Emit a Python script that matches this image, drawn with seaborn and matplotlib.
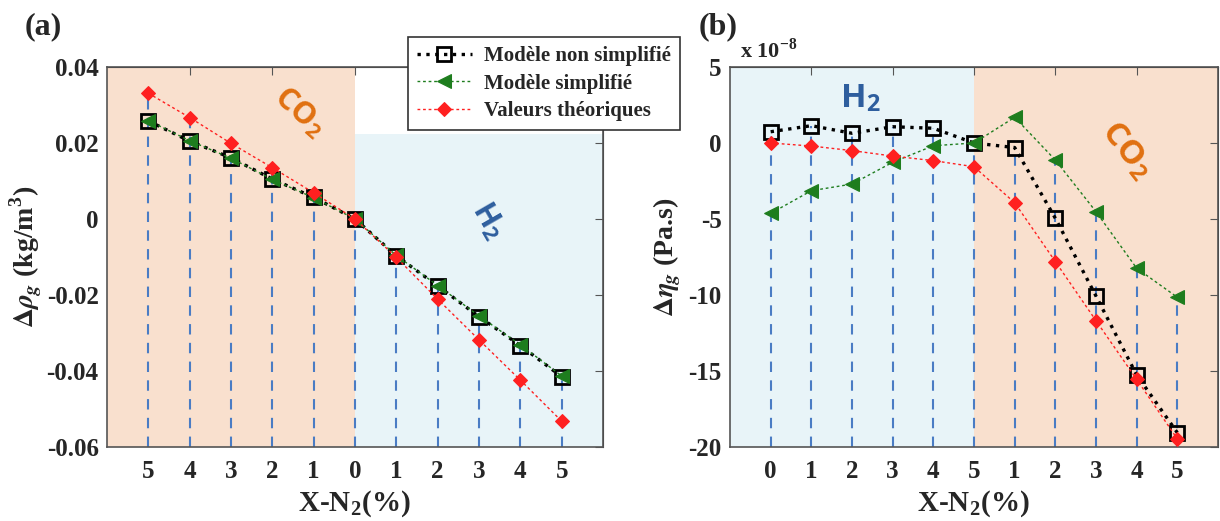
import numpy as np
import matplotlib
matplotlib.use('Agg')
import matplotlib.pyplot as plt
import seaborn as sns

# positions along x (1..11) and their tick labels
pos = [1, 2, 3, 4, 5, 6, 7, 8, 9, 10, 11]
labels_a = ['5', '4', '3', '2', '1', '0', '1', '2', '3', '4', '5']
labels_b = ['0', '1', '2', '3', '4', '5', '1', '2', '3', '4', '5']

# (a) density difference, kg/m3
rho_full = [0.0258, 0.0205, 0.0161, 0.0105, 0.0057, 0.0, -0.0097, -0.0176, -0.0257, -0.0333, -0.0415]
rho_simp = [0.0259, 0.0206, 0.0160, 0.0104, 0.0056, 0.0, -0.0096, -0.0175, -0.0255, -0.0331, -0.0413]
rho_theo = [0.0331, 0.0267, 0.0199, 0.0135, 0.0069, 0.0, -0.0101, -0.0211, -0.0318, -0.0424, -0.0532]
stem_a = [0.0331, 0.0267, 0.0199, 0.0135, 0.0069, 0.0, -0.0097, -0.0176, -0.0257, -0.0333, -0.0415]

# (b) viscosity difference, x 1e-8 Pa.s
eta_full = [0.74, 1.14, 0.64, 1.07, 0.97, 0.0, -0.30, -4.95, -10.07, -15.26, -19.06]
eta_simp = [-4.63, -3.14, -2.70, -1.27, -0.18, 0.0, 1.69, -1.12, -4.52, -8.24, -10.15]
eta_theo = [0.0, -0.20, -0.50, -0.86, -1.16, -1.56, -3.93, -7.80, -11.69, -15.55, -19.47]
stem_b = [0.74, 1.14, 0.64, 1.07, 0.97, 0.0, -0.30, -1.12, -4.52, -8.24, -10.15]

sns.set_style('white')
plt.rcParams['font.family'] = ['Liberation Serif', 'DejaVu Serif']
plt.rcParams['font.weight'] = 'bold'
plt.rcParams['mathtext.fontset'] = 'stix'
plt.rcParams['axes.unicode_minus'] = False

orange_bg = '#F9E0CE'
blue_bg = '#E8F4F8'
stem_c = '#4A7CC4'
green = '#1E7D1E'
red = '#FF2020'

fig = plt.figure(figsize=(12.2, 5.21), dpi=100)
ax1 = fig.add_axes([107/1220, 1-447/521, 496/1220, 380/521])
ax2 = fig.add_axes([730/1220, 1-447/521, 488/1220, 380/521])


def draw(ax, full, simp, theo, stem, ybot):
    ax.vlines(pos, ybot, stem, colors=stem_c, linestyles=(0, (5, 4)), lw=1.5, zorder=2)
    sns.lineplot(x=pos, y=full, ax=ax, color='black', lw=2.4, linestyle=':',
                 marker='s', markersize=10, markerfacecolor='none', markeredgecolor='black',
                 markeredgewidth=2, label='Modèle non simplifié', zorder=3)
    sns.lineplot(x=pos, y=simp, ax=ax, color=green, lw=1, linestyle=(0, (2, 2)),
                 marker='<', markersize=10, markerfacecolor=green, markeredgecolor=green,
                 label='Modèle simplifié', zorder=4)
    sns.lineplot(x=pos, y=theo, ax=ax, color=red, lw=1, linestyle=(0, (2, 2)),
                 marker='D', markersize=7, markerfacecolor=red, markeredgecolor=red,
                 label='Valeurs théoriques', zorder=5)
    ax.set_xlim(0, 12)
    ax.set_xticks(pos)
    ax.tick_params(axis='x', length=0, pad=9, labelsize=18)
    ax.tick_params(axis='y', direction='in', length=6, pad=6, labelsize=18, color='#555555')
    for lab in ax.get_xticklabels() + ax.get_yticklabels():
        lab.set_fontweight('bold')
    for s in ax.spines.values():
        s.set_color('#555555')
        s.set_linewidth(1.2)
    top = ax.secondary_xaxis('top')
    top.set_xticks([2, 4, 6, 8, 10])
    top.tick_params(direction='in', length=6, labelsize=0, color='#555555')
    top.set_xticklabels([])
    right = ax.secondary_yaxis('right')
    right.set_yticks(ax.get_yticks())
    right.tick_params(direction='in', length=6, color='#555555')
    right.set_yticklabels([])
    ax.get_legend().remove()
    ax.set_xlabel(r'X-N$_\mathregular{2}$(%)', fontsize=21, fontweight='bold', labelpad=4)


# panel (a)
ax1.set_ylim(-0.06, 0.04)
ax1.set_yticks([-0.06, -0.04, -0.02, 0, 0.02, 0.04])
ax1.axvspan(0, 6, color=orange_bg, lw=0, zorder=0)
ax1.axvspan(6, 12, ymin=0, ymax=0.825, color=blue_bg, lw=0, zorder=0)
draw(ax1, rho_full, rho_simp, rho_theo, stem_a, -0.06)
ax1.set_yticklabels(['-0.06', '-0.04', '-0.02', '0', '0.02', '0.04'])
ax1.set_xticklabels(labels_a)
ax1.set_ylabel(r'$\Delta\rho_g$ (kg/m$^\mathregular{3}$)', fontsize=20, fontweight='bold', labelpad=2)
ax1.text(9.2, -0.0005, r'H$_\mathregular{2}$', fontsize=22, color='#2E5E9E', rotation=-60,
         family='Open Sans', ha='center', va='center')
ax1.text(4.65, 0.028, r'CO$_\mathregular{2}$', fontsize=22, color='#E07010', rotation=-42,
         family='Open Sans', ha='center', va='center')

# panel (b)
ax2.set_ylim(-20, 5)
ax2.set_yticks([-20, -15, -10, -5, 0, 5])
ax2.axvspan(0, 6, color=blue_bg, lw=0, zorder=0)
ax2.axvspan(6, 12, color=orange_bg, lw=0, zorder=0)
draw(ax2, eta_full, eta_simp, eta_theo, stem_b, -20)
ax2.set_yticklabels(['-20', '-15', '-10', '-5', '0', '5'])
ax2.set_xticklabels(labels_b)
ax2.set_ylabel(r'$\Delta\eta_g$ (Pa.s)', fontsize=20, fontweight='bold', labelpad=4)
ax2.text(3.2, 2.9, r'H$_\mathregular{2}$', fontsize=24, color='#2E5E9E',
         family='Open Sans', ha='center', va='center')
ax2.text(9.75, -0.5, r'CO$_\mathregular{2}$', fontsize=24, color='#E07010', rotation=-52,
         family='Open Sans', ha='center', va='center')
ax2.text(0.02, 1.01, r'x 10$^\mathregular{-8}$', transform=ax2.transAxes, fontsize=16,
         fontweight='bold', ha='left', va='bottom')

fig.text(0.02, 0.935, '(a)', fontsize=23, fontweight='bold')
fig.text(0.573, 0.935, '(b)', fontsize=23, fontweight='bold')

h, l = ax1.get_legend_handles_labels()
leg = fig.legend(h, l, loc='upper left', bbox_to_anchor=(408/1220, 1-37/521),
                 frameon=True, fancybox=False, edgecolor='#333333', framealpha=1,
                 prop={'family': 'Liberation Serif', 'weight': 'bold', 'size': 15},
                 handlelength=2.6, borderpad=0.45, labelspacing=0.35, handletextpad=0.6,
                 borderaxespad=0)
leg.get_frame().set_linewidth(1.2)

fig.savefig('out.png', dpi=100)
